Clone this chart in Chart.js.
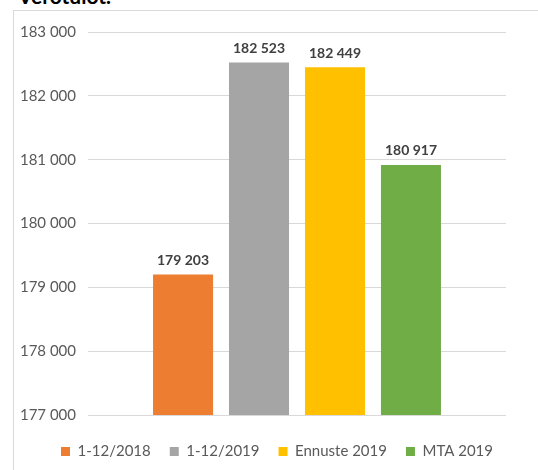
<!DOCTYPE html>
<html>
<head>
<meta charset="utf-8">
<script src="https://cdn.jsdelivr.net/npm/chart.js@4"></script>
<style>
  html, body { margin: 0; padding: 0; background: #fff; }
  #wrap { position: relative; width: 538px; height: 470px; overflow: hidden; }
  #frame { position: absolute; left: 13px; top: 10px; width: 540px; height: 500px; border: 1px solid #d9d9d9; box-sizing: border-box; }
  #cut { position: absolute; left: 18px; top: -17px; font: bold 21px Lato, sans-serif; color: #000; }
  #chart { position: absolute; left: 0; top: 0; }
</style>
</head>
<body>
<div id="wrap">
  <div id="cut">Verotulot.</div>
  <div id="frame"></div>
  <canvas id="chart" width="538" height="470"></canvas>
</div>
<script>
// series (one bar each, Excel-style clustered column)
const seriesNames = ['1-12/2018', '1-12/2019', 'Ennuste 2019', 'MTA 2019'];
const seriesValues = [179203, 182523, 182449, 180917];
const seriesColors = ['#ED7D31', '#A5A5A5', '#FFC000', '#70AD47'];
const yTicks = [177000, 178000, 179000, 180000, 181000, 182000, 183000];

const fmt = n => String(n).replace(/\B(?=(\d{3})+(?!\d))/g, ' ');

// value labels above bars
const barLabels = {
  id: 'barLabels',
  afterDatasetsDraw(chart) {
    const ctx = chart.ctx;
    ctx.save();
    ctx.font = 'bold 14px Lato, sans-serif';
    ctx.fillStyle = '#404040';
    ctx.textAlign = 'center';
    ctx.textBaseline = 'bottom';
    chart.data.datasets.forEach((ds, i) => {
      const bar = chart.getDatasetMeta(i).data[0];
      ctx.fillText(fmt(ds.data[0]), bar.x, bar.y - 7);
    });
    ctx.restore();
  }
};

// Excel centres the legend under the plot area, not the whole canvas
const legendShift = {
  id: 'legendShift',
  afterLayout(chart) {
    chart.legend.left += 24;
    chart.legend.right += 24;
  }
};

new Chart(document.getElementById('chart'), {
  type: 'bar',
  data: {
    labels: [''],
    datasets: seriesNames.map((name, i) => ({
      label: name,
      data: [seriesValues[i]],
      backgroundColor: seriesColors[i],
      categoryPercentage: 0.727,
      barPercentage: 0.79
    }))
  },
  options: {
    responsive: false,
    animation: false,
    layout: { padding: { left: 0, right: 32, top: 32, bottom: 1 } },
    plugins: {
      tooltip: { enabled: false },
      legend: {
        position: 'bottom',
        title: { display: true, text: '', font: { size: 8.3 }, padding: 0 },
        labels: {
          boxWidth: 9, boxHeight: 9, padding: 19,
          color: '#595959',
          font: { family: 'Lato, sans-serif', size: 15 }
        }
      }
    },
    scales: {
      x: { display: false },
      y: {
        min: yTicks[0],
        max: yTicks[yTicks.length - 1],
        afterFit(scale) { scale.width = 88; },
        afterBuildTicks(scale) { scale.ticks = yTicks.map(v => ({ value: v })); },
        border: { display: false },
        grid: { color: '#d9d9d9', lineWidth: 1, drawTicks: false },
        ticks: {
          padding: 12,
          color: '#595959',
          font: { family: 'Lato, sans-serif', size: 15 },
          callback: v => fmt(v)
        }
      }
    }
  },
  plugins: [barLabels, legendShift]
});
</script>
</body>
</html>
